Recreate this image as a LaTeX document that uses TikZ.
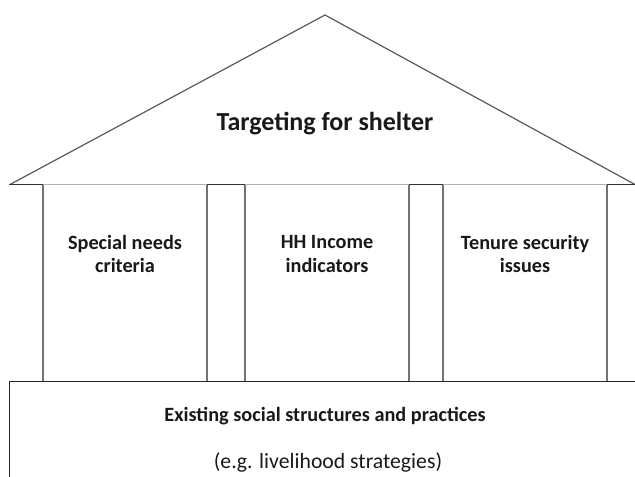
\documentclass[tikz,border=0pt]{standalone}
\usepackage{fontspec}
\setmainfont{Carlito}
\begin{document}
\begin{tikzpicture}[x=0.75pt,y=-0.75pt,
  roofline/.style={draw=black!65,line width=0.9pt},
  beam/.style={draw=black!30,line width=1.1pt},
  beamdark/.style={draw=black!80,line width=1.1pt},
  pillar/.style={draw=black!55,line width=1.5pt},
  baseline/.style={draw=black!85,line width=1.1pt},
  title/.style={font=\bfseries\fontsize{19.5}{23}\selectfont,text=black!90,align=center},
  label/.style={font=\bfseries\fontsize{15.2}{17.3}\selectfont,text=black!90,align=center},
  note/.style={font=\fontsize{16.3}{19}\selectfont,text=black!90,align=center}]
\useasboundingbox (0,0) rectangle (635,477);
% roof
\draw[roofline] (10,184.5) -- (325,15) -- (635,184.5);
% beam under the roof
\draw[beam] (10,184.5) -- (635,184.5);
\foreach \a/\b in {9/43,207/245,409/443,607/635}
  \draw[beamdark] (\a,184.5) -- (\b,184.5);
% pillars
\foreach \x in {43,207,245,409,443,607}
  \draw[pillar] (\x,185) -- (\x,381.5);
% foundation
\draw[baseline] (9.5,381.5) -- (635,381.5);
\draw[baseline] (9.5,381) -- (9.5,477);
% texts
\node[title] (roof) at (325,124) {Targeting for shelter};
\node[label] (needs) at (125,254) {Special needs\\criteria};
\node[label] (income) at (327,254) {HH Income\\indicators};
\node[label] (tenure) at (525,254) {Tenure security\\issues};
\node[label] (base) at (325,416) {Existing social structures and practices};
\node[note] (eg) at (328,462) {(e.g. livelihood strategies)};
\end{tikzpicture}
\end{document}
